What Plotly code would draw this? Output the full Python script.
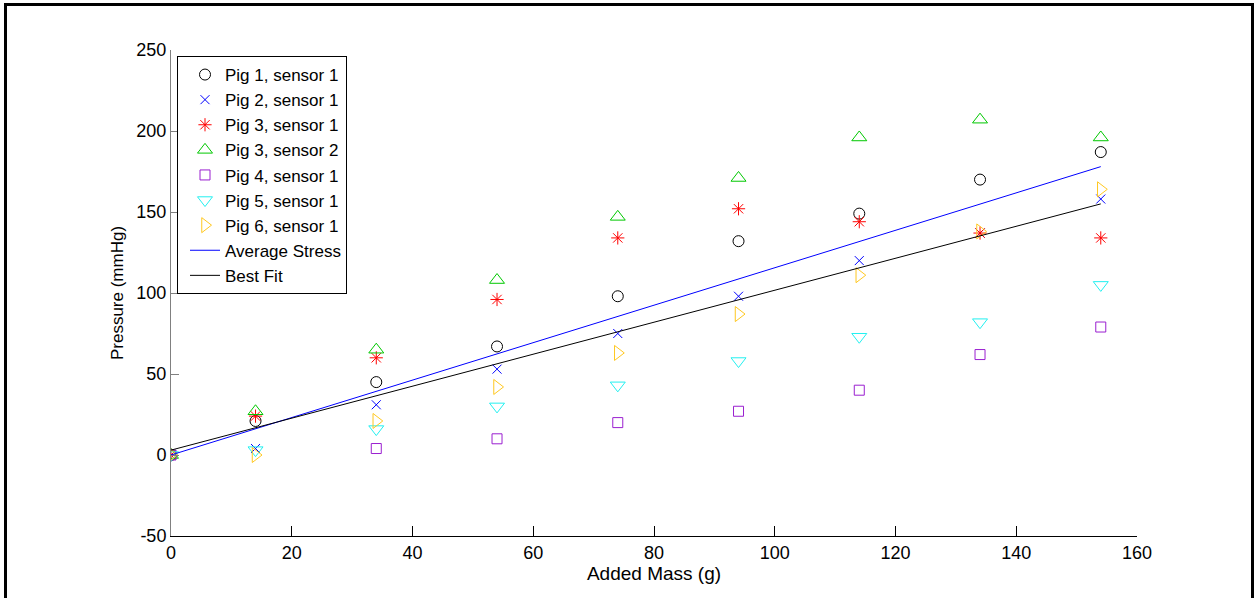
import plotly.graph_objects as go

mass = [0, 14, 34, 54, 74, 94, 114, 134, 154]
pig1_s1 = [0, 21, 45, 67, 98, 132, 149, 170, 187]
pig2_s1 = [0, 4, 31, 53, 75, 98, 120, 137, 158]
pig3_s1 = [0, 24, 60, 96, 134, 152, 144, 137, 134]
pig3_s2 = [0, 27, 65, 108, 147, 171, 196, 207, 196]
pig4_s1 = [0, None, 4, 10, 20, 27, 40, 62, 79]
pig5_s1 = [0, 3, 16, 30, 43, 58, 73, 82, 105]
pig6_s1 = [0, 0, 21, 42, 63, 87, 111, 138, 164]

line_x = [0, 154]
avg_stress = [0, 178]
best_fit = [3, 155]

x_ticks = [0, 20, 40, 60, 80, 100, 120, 140, 160]
y_ticks = [-50, 0, 50, 100, 150, 200, 250]

series = [
    ("Pig 1, sensor 1", pig1_s1, "circle-open", "#000000", 11),
    ("Pig 2, sensor 1", pig2_s1, "x-thin-open", "#0000ff", 9),
    ("Pig 3, sensor 1", pig3_s1, "asterisk-open", "#ff0000", 11),
    ("Pig 3, sensor 2", pig3_s2, "triangle-up-open", "#00c800", 13),
    ("Pig 4, sensor 1", pig4_s1, "square-open", "#9a1fd0", 10),
    ("Pig 5, sensor 1", pig5_s1, "triangle-down-open", "#22f0f0", 13),
    ("Pig 6, sensor 1", pig6_s1, "triangle-right-open", "#ffc820", 13),
]

FONT = "Liberation Sans, Arial, sans-serif"

fig = go.Figure()
for name, ys, sym, col, sz in series:
    fig.add_trace(go.Scatter(
        x=mass, y=ys, mode="markers", name=name,
        marker=dict(symbol=sym, size=sz, color=col, line=dict(width=1, color=col)),
    ))

fig.add_trace(go.Scatter(x=line_x, y=avg_stress, mode="lines", name="Average Stress",
                         line=dict(color="#0000ff", width=1)))
fig.add_trace(go.Scatter(x=line_x, y=best_fit, mode="lines", name="Best Fit",
                         line=dict(color="#000000", width=1)))

L, R, T, B = 171, 1137, 50, 536
W, H = 1257, 598
pw, ph = R - L, B - T

def px(xp):
    return (xp - L) / pw

def py(yp):
    return (B - yp) / ph

fig.update_layout(
    width=W, height=H,
    margin=dict(l=L, r=W - R, t=T, b=H - B, pad=0),
    paper_bgcolor="white", plot_bgcolor="white",
    font=dict(family=FONT, size=17, color="black"),
    showlegend=True,
    legend=dict(
        x=px(177), y=py(56), xanchor="left", yanchor="top",
        bgcolor="white", bordercolor="black", borderwidth=1,
        font=dict(family=FONT, size=17, color="black"),
        itemsizing="trace", indentation=7,
    ),
    xaxis=dict(
        range=[0, 160], tickvals=x_ticks, ticktext=[str(v) for v in x_ticks],
        showgrid=False, zeroline=False, showline=True, linecolor="black", linewidth=1,
        ticks="inside", ticklen=10, tickcolor="black", tickwidth=1,
        tickfont=dict(family=FONT, size=18, color="black"),
        title=dict(text="Added Mass (g)", font=dict(family=FONT, size=19, color="black"), standoff=1),
        mirror=False,
    ),
    yaxis=dict(
        range=[-50, 250], tickvals=y_ticks, ticktext=[str(v) for v in y_ticks],
        showgrid=False, zeroline=False, showline=True, linecolor="#808080", linewidth=1,
        ticks="inside", ticklen=8, tickcolor="#808080", tickwidth=1,
        tickfont=dict(family=FONT, size=18, color="black"),
        title=dict(text="Pressure (mmHg)", font=dict(family=FONT, size=17, color="black"), standoff=8),
        mirror=False,
    ),
    shapes=[dict(
        type="rect", xref="paper", yref="paper",
        x0=px(5.5), x1=px(1252.5), y0=py(620), y1=py(4.5),
        line=dict(color="black", width=3), fillcolor="rgba(0,0,0,0)", layer="above",
    )],
)

fig.write_html("out.html")
